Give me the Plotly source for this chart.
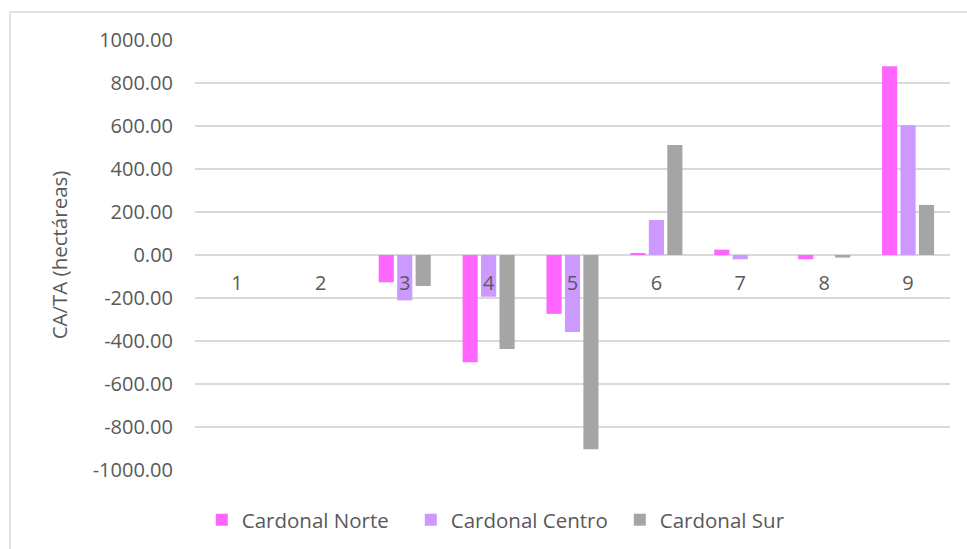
import plotly.graph_objects as go

categories = ["1", "2", "3", "4", "5", "6", "7", "8", "9"]
norte = [0, 0, -127, -499, -274, 8, 25, -20, 878]
centro = [0, 0, -211, -194, -358, 163, -20, 0, 603]
sur = [0, 0, -144, -437, -904, 512, 0, -12, 233]

y_ticks = [-1000, -800, -600, -400, -200, 0, 200, 400, 600, 800, 1000]
y_labels = [f"{v:.2f}" for v in y_ticks]

FONT = "Open Sans"
TXT = "#595959"
GRID = "#d9d9d9"

fig = go.Figure()
for name, vals, color in [("Cardonal Norte", norte, "#FF66FF"),
                          ("Cardonal Centro", centro, "#CC99FF"),
                          ("Cardonal Sur", sur, "#A5A5A5")]:
    fig.add_trace(go.Bar(x=categories, y=[v if v != 0 else None for v in vals], name=name,
                         marker=dict(color=color, line=dict(width=0))))

fig.update_layout(
    width=967, height=549,
    margin=dict(l=195, r=17, t=40, b=79, autoexpand=False),
    paper_bgcolor="white", plot_bgcolor="white",
    font=dict(family=FONT, size=20, color=TXT),
    barmode="group", bargap=0.34, bargroupgap=0.18,
    showlegend=True,
    legend=dict(orientation="h", x=0.009, xanchor="left", y=-0.116, yanchor="middle",
                font=dict(size=20.5, color=TXT), itemwidth=30, traceorder="normal",
                entrywidth=164, entrywidthmode="pixels"),
)
fig.update_xaxes(type="category", anchor="free", position=0.5, showgrid=False,
                 showline=False, zeroline=False, ticks="", ticklabelstandoff=14,
                 tickfont=dict(size=20, color=TXT), automargin=False)
fig.update_yaxes(range=[-1000, 1000], tickvals=y_ticks, ticktext=y_labels,
                 showgrid=True, gridcolor=GRID, gridwidth=1.5,
                 zeroline=True, zerolinecolor=GRID, zerolinewidth=1.5,
                 showline=False, ticks="", ticklabelstandoff=21, automargin=False,
                 title=dict(text="CA/TA (hectáreas)", standoff=19,
                            font=dict(size=20.5, color=TXT)))

# outer chart border
fig.add_shape(type="rect", xref="paper", yref="paper",
              x0=-0.245, x1=1.05, y0=-0.25, y1=1.065,
              line=dict(color=GRID, width=1.5), fillcolor="rgba(0,0,0,0)", layer="below")

fig.write_html("out.html", config={"displayModeBar": False},
               post_script="document.body.style.margin='0';")
